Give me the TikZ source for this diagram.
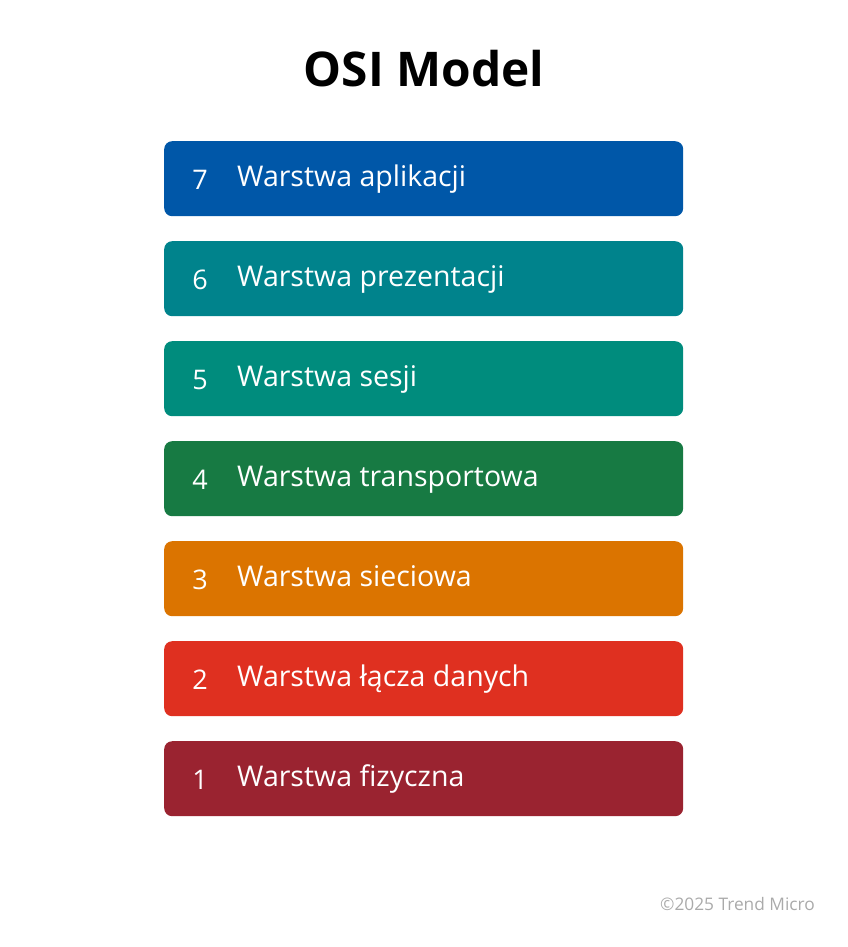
\documentclass[tikz,border=0pt]{standalone}
\usepackage{fontspec}
\setmainfont{Open Sans}
\definecolor{c7}{HTML}{0057A8}
\definecolor{c6}{HTML}{00838C}
\definecolor{c5}{HTML}{008C7D}
\definecolor{c4}{HTML}{177A43}
\definecolor{c3}{HTML}{DB7400}
\definecolor{c2}{HTML}{DF3020}
\definecolor{c1}{HTML}{9A2330}
\definecolor{foot}{HTML}{AAAAAA}
\tikzset{
  layerbox/.style={rectangle, rounded corners=8pt, minimum width=519pt, minimum height=75pt, inner sep=0pt, anchor=north west},
  layernum/.style={text=white, font=\fontsize{27}{30}\selectfont, anchor=base, inner sep=0pt},
  layertxt/.style={text=white, font=\fontsize{28.5}{32}\selectfont, anchor=base west, inner sep=0pt},
}
\begin{document}
\begin{tikzpicture}[x=1pt,y=1pt]
\useasboundingbox (0,0) rectangle (847,-947);
\node[font=\bfseries\fontsize{47.8}{52}\selectfont, anchor=base, inner sep=0pt] (title) at (424,-87) {OSI Model};
\foreach \n/\t/\c [count=\i from 0] in {7/Warstwa aplikacji/c7, 6/Warstwa prezentacji/c6, 5/Warstwa sesji/c5, 4/Warstwa transportowa/c4, 3/Warstwa sieciowa/c3, 2/Warstwa łącza danych/c2, 1/Warstwa fizyczna/c1}{
  \node[layerbox, fill=\c] (box\n) at (164,{-141-100*\i}) {};
  \node[layernum] (num\n) at (200,{-141-100*\i-48}) {\n};
  \node[layertxt] (txt\n) at (237,{-141-100*\i-45}) {\t};
}
\node[text=foot, font=\fontsize{17.3}{20}\selectfont, anchor=base east, inner sep=0pt] (footer) at (815,-910) {©2025 Trend Micro};
\end{tikzpicture}
\end{document}
